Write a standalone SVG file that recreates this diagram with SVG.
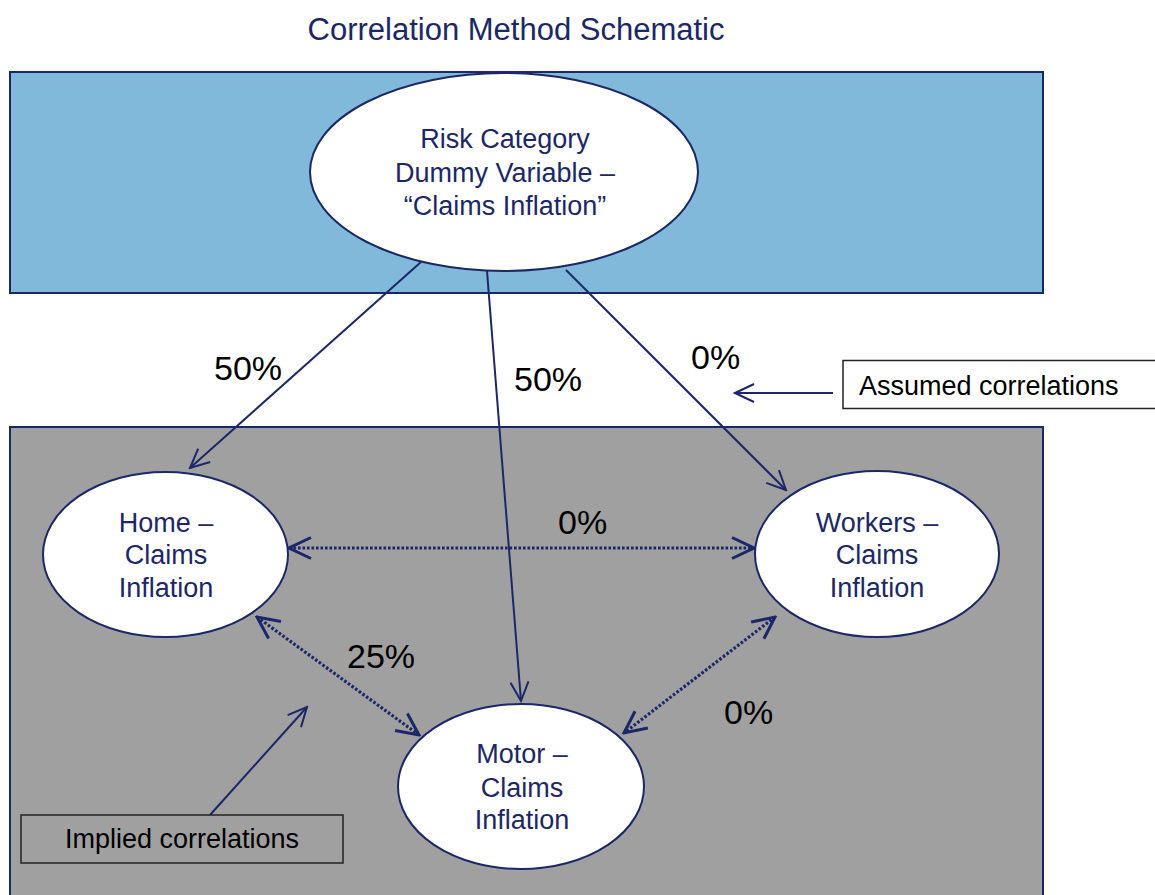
<svg xmlns="http://www.w3.org/2000/svg" width="1155" height="895" viewBox="0 0 1155 895">
<style>
text{font-family:"Liberation Sans",Arial,sans-serif}
.title{font-size:31px;fill:#1b2768;text-anchor:middle}
.nt{font-size:27px;fill:#1b2768;text-anchor:middle}
.pct{font-size:34px;fill:#000}
.lbl{font-size:27px;fill:#000}
.node{fill:#fff;stroke:#1b2768;stroke-width:2}
.solid{stroke:#1b2768;stroke-width:2;fill:none}
.dot{stroke:#1b2768;stroke-width:3.2;stroke-dasharray:2.6 1.9;fill:none}
</style>
<defs>
<marker id="as" viewBox="-20 -11 22 22" refX="0" refY="0" markerWidth="22" markerHeight="22" markerUnits="userSpaceOnUse" orient="auto-start-reverse">
<path d="M-19,-9 L0,0 L-19,9" fill="none" stroke="#1b2768" stroke-width="2"/>
</marker>
<marker id="ad" viewBox="-24 -13 26 26" refX="0" refY="0" markerWidth="26" markerHeight="26" markerUnits="userSpaceOnUse" orient="auto-start-reverse">
<path d="M-22,-10.5 L0,0 L-22,10.5" fill="none" stroke="#1b2768" stroke-width="3"/>
</marker>
</defs>
<rect width="1155" height="895" fill="#fff"/>
<text class="title" x="516" y="40">Correlation Method Schematic</text>
<g id="bg-assumed"><rect x="10" y="72" width="1033" height="221" fill="#80b9d9" stroke="#1b2768" stroke-width="2"/></g>
<g id="bg-implied"><rect x="10" y="427" width="1033" height="480" fill="#a0a0a0" stroke="#1b2768" stroke-width="2"/></g>
<g id="connectors">
<line class="solid" x1="421" y1="262" x2="190" y2="468" marker-end="url(#as)"/>
<line class="solid" x1="487" y1="271" x2="521" y2="701" marker-end="url(#as)"/>
<line class="solid" x1="566" y1="270" x2="786" y2="490" marker-end="url(#as)"/>
<line class="dot" x1="289" y1="548" x2="754" y2="548" marker-start="url(#ad)" marker-end="url(#ad)"/>
<line class="dot" x1="257" y1="617" x2="419" y2="735" marker-start="url(#ad)" marker-end="url(#ad)"/>
<line class="dot" x1="775" y1="617" x2="624" y2="733" marker-start="url(#ad)" marker-end="url(#ad)"/>
<line class="solid" x1="833" y1="393" x2="735" y2="393" marker-end="url(#as)"/>
<line class="solid" x1="210" y1="815" x2="307" y2="707" marker-end="url(#as)"/>
</g>
<g id="labels">
<text class="pct" x="214" y="380">50%</text>
<text class="pct" x="514" y="391">50%</text>
<text class="pct" x="691" y="369">0%</text>
<text class="pct" x="558" y="534">0%</text>
<text class="pct" x="347" y="668">25%</text>
<text class="pct" x="724" y="724">0%</text>
</g>
<g id="node-risk">
<ellipse class="node" cx="504" cy="172" rx="194" ry="99"/>
<text class="nt" x="505" y="148">Risk Category</text>
<text class="nt" x="505" y="182">Dummy Variable –</text>
<text class="nt" x="505" y="215">“Claims Inflation”</text>
</g>
<g id="node-home">
<ellipse class="node" cx="165.5" cy="554.5" rx="122.5" ry="82.5"/>
<text class="nt" x="166" y="532">Home –</text>
<text class="nt" x="166" y="564">Claims</text>
<text class="nt" x="166" y="597">Inflation</text>
</g>
<g id="node-workers">
<ellipse class="node" cx="877" cy="554" rx="122" ry="83"/>
<text class="nt" x="877" y="532">Workers –</text>
<text class="nt" x="877" y="564">Claims</text>
<text class="nt" x="877" y="597">Inflation</text>
</g>
<g id="node-motor">
<ellipse class="node" cx="521" cy="786.5" rx="123" ry="82.5"/>
<text class="nt" x="522" y="763">Motor –</text>
<text class="nt" x="522" y="797">Claims</text>
<text class="nt" x="522" y="829">Inflation</text>
</g>
<g id="node-assumed">
<rect x="843" y="360.5" width="330" height="48" fill="#fff" stroke="#222" stroke-width="1.5"/>
<text class="lbl" x="859" y="395">Assumed correlations</text>
</g>
<g id="node-implied">
<rect x="21" y="815" width="322" height="48" fill="#a0a0a0" stroke="#222" stroke-width="1.5"/>
<text class="lbl" x="65" y="848">Implied correlations</text>
</g>
</svg>
